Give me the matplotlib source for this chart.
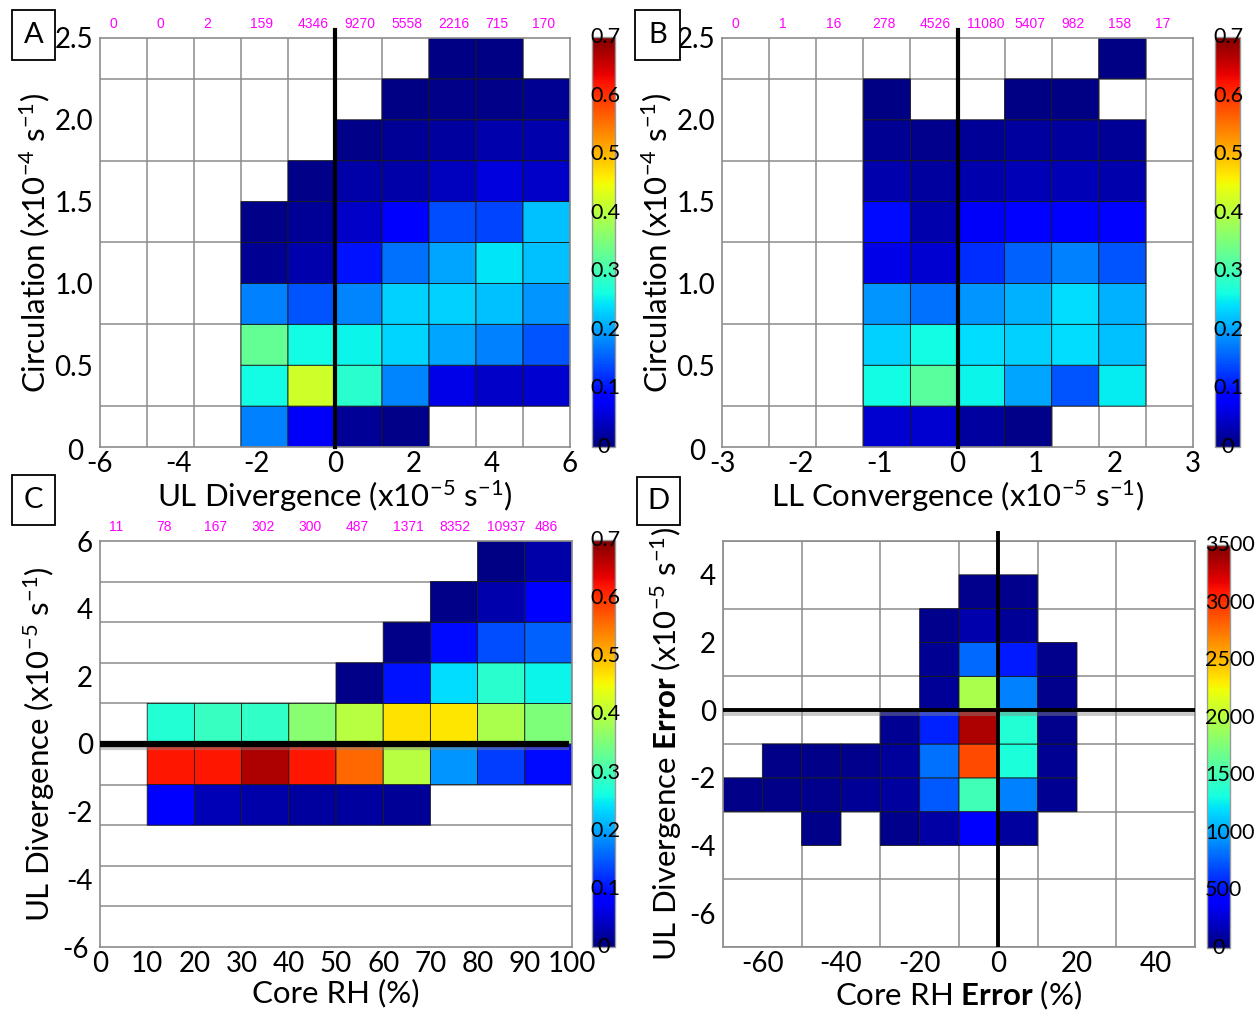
import numpy as np
import matplotlib
matplotlib.use("Agg")
import matplotlib.pyplot as plt
import matplotlib.patheffects as pe
from matplotlib.patches import Rectangle
from matplotlib.transforms import ScaledTranslation

plt.rcParams['font.family'] = ['Lato', 'DejaVu Sans']
plt.rcParams['mathtext.fontset'] = 'custom'
plt.rcParams['mathtext.rm'] = 'Lato'
plt.rcParams['mathtext.it'] = 'Lato:italic'
plt.rcParams['mathtext.bf'] = 'Lato:bold'
plt.rcParams['mathtext.default'] = 'regular'
plt.rcParams['axes.unicode_minus'] = False

_ = np.nan

# ---------------------------------------------------------------- data
# fraction of cases per bin, rows listed top -> bottom, cols left -> right
circ_edges = np.arange(0, 2.51, 0.25)

ul_div_edges = np.linspace(-6, 6, 11)
frac_circ_uldiv = [
    [_, _, _, _, _, _, _, 0.005, 0.005, _],
    [_, _, _, _, _, _, 0.005, 0.007, 0.007, 0.012],
    [_, _, _, _, _, 0.008, 0.015, 0.02, 0.03, 0.03],
    [_, _, _, _, 0.008, 0.025, 0.025, 0.04, 0.06, 0.045],
    [_, _, _, 0.008, 0.015, 0.045, 0.085, 0.14, 0.135, 0.22],
    [_, _, _, 0.012, 0.03, 0.10, 0.165, 0.20, 0.245, 0.22],
    [_, _, _, 0.175, 0.145, 0.18, 0.23, 0.23, 0.22, 0.19],
    [_, _, _, 0.33, 0.26, 0.255, 0.235, 0.20, 0.175, 0.145],
    [_, _, _, 0.26, 0.42, 0.28, 0.18, 0.065, 0.045, 0.05],
    [_, _, _, 0.175, 0.075, 0.015, 0.008, _, _, _],
]
counts_uldiv = [0, 0, 2, 159, 4346, 9270, 5558, 2216, 715, 170]

ll_conv_edges = np.linspace(-3, 3, 11)
frac_circ_llconv = [
    [_, _, _, _, _, _, _, _, 0.005, _],
    [_, _, _, 0.005, _, _, 0.005, 0.005, _, _],
    [_, _, _, 0.012, 0.01, 0.015, 0.02, 0.02, 0.015, _],
    [_, _, _, 0.03, 0.02, 0.03, 0.035, 0.035, 0.03, _],
    [_, _, _, 0.095, 0.03, 0.075, 0.09, 0.085, 0.09, _],
    [_, _, _, 0.065, 0.05, 0.12, 0.155, 0.175, 0.145, _],
    [_, _, _, 0.19, 0.165, 0.19, 0.21, 0.24, 0.21, _],
    [_, _, _, 0.23, 0.26, 0.24, 0.23, 0.24, 0.22, _],
    [_, _, _, 0.26, 0.32, 0.255, 0.20, 0.145, 0.25, _],
    [_, _, _, 0.05, 0.05, 0.02, 0.008, _, _, _],
]
counts_llconv = [0, 1, 16, 278, 4526, 11080, 5407, 982, 158, 17]

rh_edges = np.linspace(0, 100, 11)
div_edges = np.linspace(-6, 6, 11)
frac_div_rh = [
    [_, _, _, _, _, _, _, _, 0.005, 0.025],
    [_, _, _, _, _, _, _, 0.008, 0.03, 0.08],
    [_, _, _, _, _, _, 0.008, 0.095, 0.14, 0.155],
    [_, _, _, _, _, 0.008, 0.10, 0.24, 0.28, 0.255],
    [_, 0.275, 0.29, 0.285, 0.36, 0.40, 0.47, 0.465, 0.39, 0.35],
    [_, 0.62, 0.62, 0.67, 0.62, 0.56, 0.40, 0.19, 0.13, 0.095],
    [_, 0.085, 0.035, 0.025, 0.02, 0.02, 0.015, _, _, _],
    [_, _, _, _, _, _, _, _, _, _],
    [_, _, _, _, _, _, _, _, _, _],
    [_, _, _, _, _, _, _, _, _, _],
]
counts_rh = [11, 78, 167, 302, 300, 487, 1371, 8352, 10937, 486]

rh_err_edges = np.arange(-70, 51, 10)
div_err_edges = np.arange(-7, 6, 1)
count_err = [
    [_, _, _, _, _, _, _, _, _, _, _, _],
    [_, _, _, _, _, _, 50, 50, _, _, _, _],
    [_, _, _, _, _, 50, 150, 80, _, _, _, _],
    [_, _, _, _, _, 60, 800, 530, 50, _, _, _],
    [_, _, _, _, _, 80, 1950, 875, 50, _, _, _],
    [_, _, _, _, 60, 560, 3350, 1370, 50, _, _, _],
    [_, 40, 40, 50, 90, 830, 2900, 1350, 60, _, _, _],
    [40, 40, 50, 70, 100, 750, 1500, 880, 60, _, _, _],
    [_, _, 40, _, 50, 120, 420, 100, _, _, _, _],
    [_, _, _, _, _, _, _, _, _, _, _, _],
    [_, _, _, _, _, _, _, _, _, _, _, _],
    [_, _, _, _, _, _, _, _, _, _, _, _],
]

# ---------------------------------------------------------------- layout
W, H = 1255, 1014
fig = plt.figure(figsize=(W / 100, H / 100), dpi=100)


def px_rect(l, t, r, b):
    return [l / W, 1 - b / H, (r - l) / W, (b - t) / H]


GRID = '#8c8c8c'
TICK_FS = 20
LABEL_FS = 22.5


def heatmap(rect, xe, ye, z, vmax, xticks, yticks, xlabels=None, ylabels=None):
    ax = fig.add_axes(px_rect(*rect))
    z = np.ma.masked_invalid(np.flipud(np.array(z, dtype=float)))
    mesh = ax.pcolor(xe, ye, z, cmap='jet', vmin=0, vmax=vmax,
                     edgecolors='#1a1a1a', linewidth=0.6)
    ax.set_xlim(xe[0], xe[-1])
    ax.set_ylim(ye[0], ye[-1])
    ax.set_xticks(xe, minor=True)
    ax.set_yticks(ye, minor=True)
    ax.set_xticks(xticks)
    ax.set_yticks(yticks)
    if xlabels is not None:
        ax.set_xticklabels(xlabels)
    if ylabels is not None:
        ax.set_yticklabels(ylabels)
    ax.set_axisbelow(True)
    ax.grid(which='minor', color=GRID, lw=1.1)
    ax.grid(which='major', visible=False)
    ax.tick_params(which='both', length=0, labelsize=TICK_FS)
    ax.tick_params(axis='x', pad=3)
    ax.tick_params(axis='y', pad=5)
    for s in ax.spines.values():
        s.set_color(GRID)
        s.set_linewidth(1.2)
    return ax, mesh


def nudge_bottom_ylabel(ax, dx=-7, dy=-2):
    lab = ax.get_yticklabels()[0]
    lab.set_transform(lab.get_transform() +
                      ScaledTranslation(dx / 72, dy / 72, fig.dpi_scale_trans))


def colorbar(mesh, rect, ticks, labels):
    cax = fig.add_axes(px_rect(*rect))
    cb = fig.colorbar(mesh, cax=cax)
    cb.outline.set_edgecolor('#9a9a9a')
    cb.outline.set_linewidth(1.0)
    cax.set_yticks([])
    for t, lab in zip(ticks, labels):
        if t == 0:
            # the zero label sits centred under the bar
            cax.text(0.5, t, lab, ha='center', va='center', fontsize=15.5,
                     transform=cax.get_yaxis_transform(), clip_on=False)
        else:
            cax.text(-0.08, t, lab, ha='left', va='center', fontsize=15.5,
                     transform=cax.get_yaxis_transform(), clip_on=False)
    return cb


def counts_row(ax, xe, counts, dy=0.034):
    w = xe[1] - xe[0]
    for x0, n in zip(xe[:-1], counts):
        ax.text(x0 + 0.2 * w, 1 + dy, str(n), ha='left', va='center',
                color='#ff00ff', fontsize=10,
                family=['Liberation Sans Narrow', 'Liberation Sans'],
                transform=ax.get_xaxis_transform(), clip_on=False)


def panel_letter(l, t, r, b, s):
    fig.add_artist(Rectangle((l / W, 1 - b / H), (r - l) / W, (b - t) / H,
                             transform=fig.transFigure, fc='white',
                             ec='black', lw=1.3))
    fig.text((l + r) / 2 / W, 1 - (t + b) / 2 / H, s, ha='center',
             va='center', fontsize=21)


shadow = [pe.SimpleLineShadow(offset=(0, -2.5), shadow_color='#888888', alpha=0.45),
          pe.Normal()]
cb_frac = [0, 0.1, 0.2, 0.3, 0.4, 0.5, 0.6, 0.7]
cb_frac_lab = ['0', '0.1', '0.2', '0.3', '0.4', '0.5', '0.6', '0.7']

# A: circulation vs UL divergence
axA, mA = heatmap((100, 38, 570, 447), ul_div_edges, circ_edges, frac_circ_uldiv, 0.7,
                  [-6, -4, -2, 0, 2, 4, 6], [0, 0.5, 1.0, 1.5, 2.0, 2.5],
                  ylabels=['0', '0.5', '1.0', '1.5', '2.0', '2.5'])
axA.plot([0, 0], [0, 2.55], color='black', lw=3, clip_on=False, zorder=5)
axA.set_xlabel(r'UL Divergence (x10$^{-5}$ s$^{-1}$)', fontsize=LABEL_FS, labelpad=1)
axA.set_ylabel(r'Circulation (x10$^{-4}$ s$^{-1}$)', fontsize=LABEL_FS, labelpad=2)
nudge_bottom_ylabel(axA)
counts_row(axA, ul_div_edges, counts_uldiv)
colorbar(mA, (592, 37, 615, 447), cb_frac, cb_frac_lab)

# B: circulation vs LL convergence
axB, mB = heatmap((722, 38, 1193, 447), ll_conv_edges, circ_edges, frac_circ_llconv, 0.7,
                  [-3, -2, -1, 0, 1, 2, 3], [0, 0.5, 1.0, 1.5, 2.0, 2.5],
                  ylabels=['0', '0.5', '1.0', '1.5', '2.0', '2.5'])
axB.plot([0, 0], [0, 2.55], color='black', lw=3, clip_on=False, zorder=5)
axB.set_xlabel(r'LL Convergence (x10$^{-5}$ s$^{-1}$)', fontsize=LABEL_FS, labelpad=1)
axB.set_ylabel(r'Circulation (x10$^{-4}$ s$^{-1}$)', fontsize=LABEL_FS, labelpad=2)
nudge_bottom_ylabel(axB)
counts_row(axB, ll_conv_edges, counts_llconv)
colorbar(mB, (1215, 37, 1240, 447), cb_frac, cb_frac_lab)

# C: UL divergence vs core RH
axC, mC = heatmap((100, 541, 572, 947), rh_edges, div_edges, frac_div_rh, 0.7,
                  np.arange(0, 101, 10), [-6, -4, -2, 0, 2, 4, 6])
axC.plot([0, 99.3], [0, 0], color='black', lw=4.5, zorder=5,
         solid_capstyle='butt', path_effects=shadow)
axC.set_xlabel('Core RH (%)', fontsize=LABEL_FS, labelpad=1)
axC.set_ylabel(r'UL Divergence (x10$^{-5}$ s$^{-1}$)', fontsize=LABEL_FS, labelpad=4)
nudge_bottom_ylabel(axC, dx=-3, dy=0)
counts_row(axC, rh_edges, counts_rh)
colorbar(mC, (592, 540, 615, 947), cb_frac, cb_frac_lab)

# D: error vs error, raw counts
axD, mD = heatmap((723, 541, 1195, 947), rh_err_edges, div_err_edges, count_err, 3500,
                  [-60, -40, -20, 0, 20, 40], [-6, -4, -2, 0, 2, 4])
axD.plot([-70, 50], [0, 0], color='black', lw=2.8, zorder=5, clip_on=False,
         solid_capstyle='butt', path_effects=shadow)
axD.plot([0, 0], [-7, 5.3], color='black', lw=2.8, zorder=5, clip_on=False,
         solid_capstyle='butt')
axD.set_xlabel(r'Core RH $\mathbf{Error}$ (%)', fontsize=LABEL_FS, labelpad=1)
axD.set_ylabel(r'UL Divergence $\mathbf{Error}$ (x10$^{-5}$ s$^{-1}$)',
               fontsize=LABEL_FS, labelpad=4)
cb_cnt = np.arange(0, 3501, 500)
colorbar(mD, (1207, 545, 1230, 948), cb_cnt, [str(v) for v in cb_cnt])

panel_letter(12, 10, 55, 60, 'A')
panel_letter(635, 10, 680, 60, 'B')
panel_letter(12, 475, 55, 525, 'C')
panel_letter(637, 477, 680, 525, 'D')

fig.savefig('out.png', dpi=100)
